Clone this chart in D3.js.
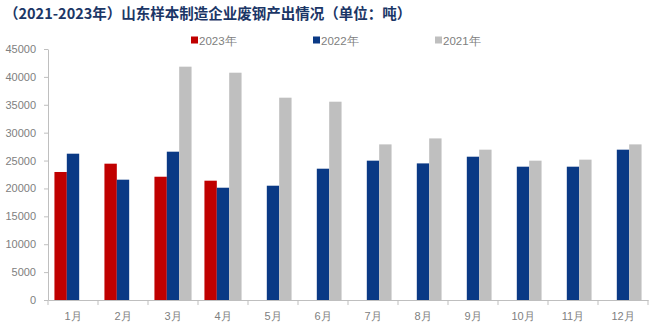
<!DOCTYPE html>
<html><head><meta charset="utf-8">
<script src="https://cdn.jsdelivr.net/npm/d3@7"></script>
<style>body{margin:0;background:#fff}svg{display:block}</style>
</head><body>
<svg id="c" width="653" height="330"></svg>
<script>
const months = ["1月","2月","3月","4月","5月","6月","7月","8月","9月","10月","11月","12月"];
const seriesNames = ["2023年","2022年","2021年"];
const v2023 = [22950, 24440, 22100, 21390, null, null, null, null, null, null, null, null];
const v2022 = [26230, 21570, 26590, 20130, 20490, 23540, 24980, 24490, 25690, 23900, 23900, 26950];
const v2021 = [null, null, 41830, 40750, 36270, 35550, 27900, 28970, 26950, 24980, 25160, 27900];
const yTicks = [0,5000,10000,15000,20000,25000,30000,35000,40000,45000];
const colors = ["#c00000","#0a3985","#bfbfbf"];
const title = "（2021-2023年）山东样本制造企业废钢产出情况（单位：吨）";

const svg = d3.select("#c");
const m = {l:48, r:5, t:49, b:30};
const W = 653, H = 330;
const x = d3.scaleBand().domain(months).range([m.l, W - m.r]).paddingInner(0).paddingOuter(0);
const x1 = d3.scaleBand().domain(seriesNames).range([0, x.bandwidth()]).paddingInner(0).paddingOuter(0.52);
const y = d3.scaleLinear().domain([0,45000]).range([H - m.b, m.t]);
const font = "'Liberation Sans', Arial, sans-serif";

svg.append("text").attr("x",4).attr("y",19)
  .attr("font-family","'Noto Sans CJK SC', sans-serif").attr("font-weight","bold")
  .attr("font-size",14.5).attr("fill","#1b3666").text(title);

// y axis
const ya = svg.append("g").attr("transform",`translate(${m.l},0)`)
  .call(d3.axisLeft(y).tickValues(yTicks).tickFormat(d3.format("d")).tickSize(4).tickPadding(8).tickSizeOuter(0));
ya.select(".domain").attr("stroke","#bfbfbf");
ya.selectAll(".tick line").attr("stroke","#bfbfbf");
ya.selectAll(".tick text").attr("font-family",font).attr("font-size",11).attr("fill","#808080");

// bars
const data = [v2023, v2022, v2021];
seriesNames.forEach((s,i)=>{
  svg.append("g").selectAll("rect").data(months.map((mo,j)=>({mo, v:data[i][j]})).filter(d=>d.v!=null))
    .join("rect")
    .attr("x", d=>x(d.mo)+x1(s)).attr("width", x1.bandwidth())
    .attr("y", d=>y(d.v)).attr("height", d=>y(0)-y(d.v))
    .attr("fill", colors[i]);
});

// x axis
const xa = svg.append("g").attr("transform",`translate(0,${y(0)})`)
  .call(d3.axisBottom(x).tickSize(0).tickPadding(12));
xa.select(".domain").attr("stroke","#bfbfbf");
xa.selectAll(".tick text").attr("font-family",font).attr("font-size",11).attr("fill","#808080");
const bounds = months.map(mo=>x(mo)).concat([x(months[months.length-1])+x.bandwidth()]);
svg.append("g").selectAll("line").data(bounds).join("line")
  .attr("x1",d=>d).attr("x2",d=>d).attr("y1",y(0)).attr("y2",y(0)+5)
  .attr("stroke","#bfbfbf");

// legend
const legX = [191, 313, 435];
const lg = svg.append("g").selectAll("g").data(seriesNames).join("g")
  .attr("transform",(d,i)=>`translate(${legX[i]},40)`);
lg.append("rect").attr("x",0).attr("y",-3.5).attr("width",7).attr("height",7).attr("fill",(d,i)=>colors[i]);
lg.append("text").attr("x",8).attr("y",4.5).attr("font-family",font).attr("font-size",11.5)
  .attr("fill","#808080").text(d=>d);
</script>
</body></html>
